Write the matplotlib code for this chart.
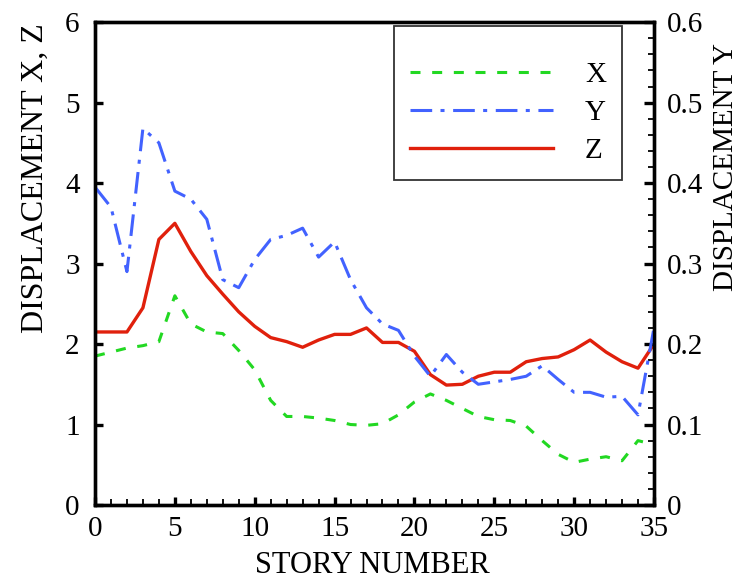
import matplotlib
matplotlib.use('Agg')
import matplotlib.pyplot as plt
from matplotlib.ticker import MultipleLocator

plt.rcParams['font.family'] = ['Liberation Serif', 'DejaVu Serif']
plt.rcParams['lines.scale_dashes'] = False

# Data
story = list(range(36))
disp_x = [1.85, 1.90, 1.95, 1.98, 2.03, 2.60, 2.25, 2.15, 2.13, 1.92,
          1.68, 1.30, 1.10, 1.10, 1.08, 1.05, 1.00, 0.99, 1.01, 1.12,
          1.28, 1.38, 1.30, 1.20, 1.10, 1.06, 1.05, 0.98, 0.80, 0.63,
          0.53, 0.57, 0.60, 0.55, 0.80, 0.75]
disp_y = [0.395, 0.370, 0.290, 0.468, 0.450, 0.390, 0.380, 0.355, 0.280, 0.270,
          0.305, 0.330, 0.335, 0.344, 0.308, 0.327, 0.280, 0.245, 0.225, 0.217,
          0.185, 0.160, 0.187, 0.165, 0.150, 0.153, 0.156, 0.160, 0.173, 0.156,
          0.140, 0.140, 0.134, 0.135, 0.112, 0.220]
disp_z = [2.15, 2.15, 2.15, 2.45, 3.30, 3.50, 3.15, 2.85, 2.62, 2.40,
          2.22, 2.08, 2.03, 1.96, 2.05, 2.12, 2.12, 2.20, 2.02, 2.02,
          1.91, 1.62, 1.49, 1.50, 1.60, 1.65, 1.65, 1.78, 1.82, 1.84,
          1.93, 2.05, 1.90, 1.78, 1.70, 2.00]

green = '#22d822'
blue = '#4262ff'
red = '#e0200c'

fig = plt.figure(figsize=(7.44, 5.79), dpi=100)
ax = fig.add_axes([0.1277, 0.1278, 0.7513, 0.834])
ax2 = ax.twinx()

lx, = ax.plot(story, disp_x, color=green, lw=2.2, dashes=(7.2, 8.4), label='X')
ly, = ax2.plot(story, disp_y, color=blue, lw=2.2, dashes=(15.6, 6.0, 2.9, 6.2), label='Y')
lz, = ax.plot(story, disp_z, color=red, lw=2.4, label='Z')

ax.set_xlim(0, 35)
ax.set_ylim(0, 6)
ax2.set_ylim(0, 0.6)

ax.xaxis.set_major_locator(MultipleLocator(5))
ax.xaxis.set_minor_locator(MultipleLocator(1))
ax.yaxis.set_major_locator(MultipleLocator(1))
ax2.yaxis.set_minor_locator(MultipleLocator(0.02))
ax2.set_yticks([0, 0.1, 0.2, 0.3, 0.4, 0.5, 0.6])
ax2.set_yticklabels(['0', '0.1', '0.2', '0.3', '0.4', '0.5', '0.6'])

for a in (ax, ax2):
    for s in a.spines.values():
        s.set_linewidth(2.4)

ax.tick_params(axis='x', which='major', direction='in', length=6, width=2.4,
               labelsize=21, pad=8, top=False)
ax.tick_params(axis='x', which='minor', direction='in', length=4, width=1.3, top=False)
ax.tick_params(axis='y', which='major', direction='in', length=6, width=2.4,
               labelsize=21, pad=11, right=False)
ax2.tick_params(axis='y', which='major', direction='in', length=7, width=2.4,
                labelsize=21, pad=9)
ax2.tick_params(axis='y', which='minor', direction='in', length=4.5, width=1.3)

ax.set_xlabel('STORY NUMBER', fontsize=22)
ax.xaxis.set_label_coords(0.497, -0.095)
ax.set_ylabel('DISPLACEMENT X, Z', fontsize=23)
ax.yaxis.set_label_coords(-0.08, 0.677)
ax2.set_ylabel('DISPLACEMENT Y', fontsize=21)
ax2.yaxis.set_label_coords(1.106, 0.70)

leg = ax2.legend(handles=[lx, ly, lz], loc='upper right',
                 bbox_to_anchor=(622 / 744, (579 - 26) / 579),
                 bbox_transform=fig.transFigure, fontsize=21,
                 title=' ', title_fontsize=6,
                 handlelength=4.9, handletextpad=1.1, labelspacing=0.4,
                 borderpad=0.55, borderaxespad=0, frameon=True, fancybox=False)
leg.get_frame().set_edgecolor('black')
leg.get_frame().set_linewidth(1.3)

fig.savefig('out.png', dpi=100)
